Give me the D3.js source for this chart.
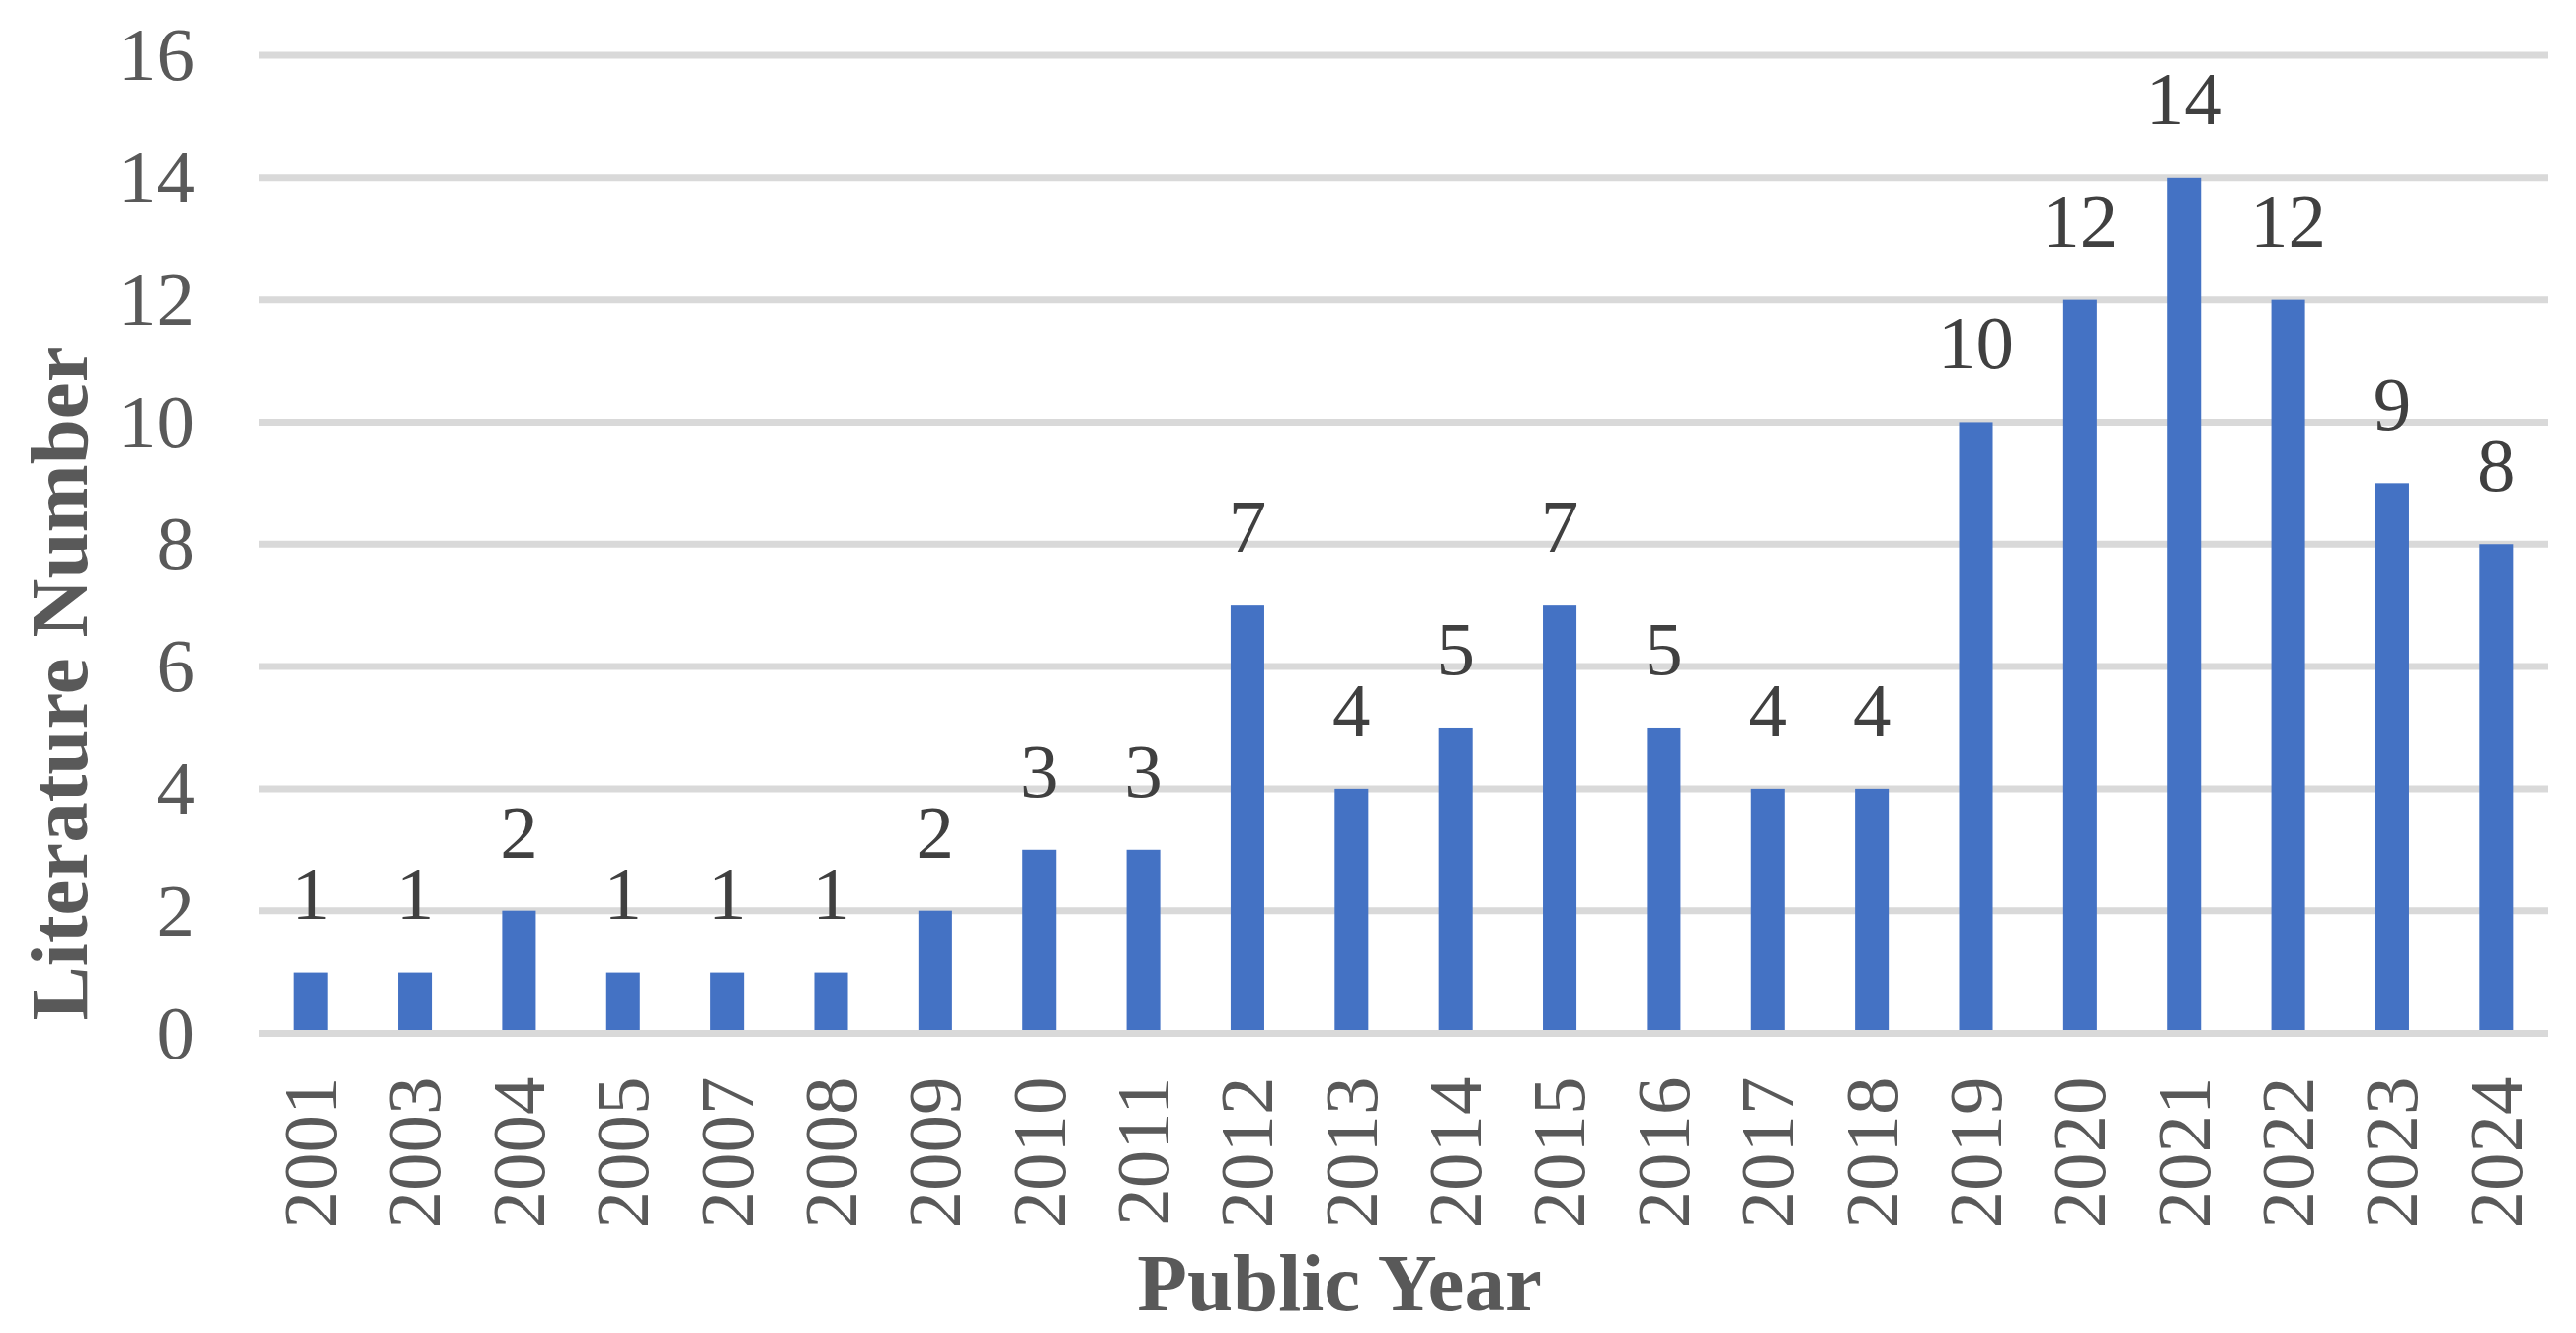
<!DOCTYPE html>
<html>
<head>
<meta charset="utf-8">
<script src="https://cdn.jsdelivr.net/npm/d3@7"></script>
<style>
  body { margin: 0; background: #fff; }
  text { font-family: "Liberation Serif", "Times New Roman", serif; }
</style>
</head>
<body>
<div id="container"></div>
<script>
var years = ["2001", "2003", "2004", "2005", "2007", "2008", "2009", "2010", "2011", "2012", "2013",
             "2014", "2015", "2016", "2017", "2018", "2019", "2020", "2021", "2022", "2023", "2024"];
var counts = [1, 1, 2, 1, 1, 1, 2, 3, 3, 7, 4, 5, 7, 5, 4, 4, 10, 12, 14, 12, 9, 8];
var yTicks = [0, 2, 4, 6, 8, 10, 12, 14, 16];

document.addEventListener('DOMContentLoaded', function(){
  var width = 2608;
  var height = 1350;
  var left = 262, right = 2580, top = 56, bottom = 1046.5;

  var xScale = d3.scaleBand()
                 .domain(years)
                 .range([left, right])
                 .paddingInner(0.677)
                 .paddingOuter(0.3385);

  var yScale = d3.scaleLinear()
                 .domain([0, 16])
                 .range([bottom, top]);

  var SVG = d3.select("#container")
              .append("svg")
              .attr("width", width)
              .attr("height", height);

  // gridlines
  SVG.append("g")
     .selectAll("line")
     .data(yTicks.filter(function(d){ return d > 0; }))
     .enter()
     .append("line")
     .attr("x1", left)
     .attr("x2", right)
     .attr("y1", function(d){ return yScale(d); })
     .attr("y2", function(d){ return yScale(d); })
     .attr("stroke", "#d9d9d9")
     .attr("stroke-width", 7);

  SVG.append("g")
     .selectAll("rect")
     .data(counts)
     .enter()
     .append("rect")
     .attr("x", function(d, i){ return xScale(years[i]); })
     .attr("y", function(d){ return yScale(d); })
     .attr("width", xScale.bandwidth())
     .attr("height", function(d){ return bottom - yScale(d); })
     .attr("fill", "#4472c4");

  // axis line at 0
  SVG.append("line")
     .attr("x1", left)
     .attr("x2", right)
     .attr("y1", yScale(0))
     .attr("y2", yScale(0))
     .attr("stroke", "#d9d9d9")
     .attr("stroke-width", 7);

  // data labels
  SVG.append("g")
     .selectAll("text")
     .data(counts)
     .enter()
     .append("text")
     .attr("x", function(d, i){ return xScale(years[i]) + xScale.bandwidth() / 2; })
     .attr("y", function(d){ return yScale(d) - 54; })
     .attr("text-anchor", "middle")
     .attr("fill", "#404040")
     .style("font-size", "77px")
     .text(function(d){ return d; });

  var yAxis = d3.axisLeft(yScale)
                .tickValues(yTicks)
                .tickSize(0)
                .tickPadding(65);

  var yG = SVG.append("g")
              .attr("transform", "translate(" + left + ",0)")
              .call(yAxis);
  yG.select(".domain").remove();
  yG.selectAll("text")
    .attr("fill", "#595959")
    .style("font-size", "77px")
    .style("font-family", "Liberation Serif, serif")
    .attr("dy", "0.32em");

  var xAxis = d3.axisBottom(xScale)
                .tickSize(0);

  var xG = SVG.append("g")
              .attr("transform", "translate(0," + bottom + ")")
              .call(xAxis);
  xG.select(".domain").remove();
  xG.selectAll("text")
    .attr("fill", "#595959")
    .style("font-size", "77px")
    .style("font-family", "Liberation Serif, serif")
    .attr("text-anchor", "end")
    .attr("transform", "rotate(-90)")
    .attr("x", -44)
    .attr("y", 0)
    .attr("dy", "0.33em");

  SVG.append('text')
     .attr('transform', 'translate(88,692) rotate(-90)')
     .attr('text-anchor', 'middle')
     .attr('fill', '#595959')
     .style('font-size', "83px")
     .style('font-weight', "bold")
     .text('Literature Number');

  SVG.append('text')
     .attr('x', 1356)
     .attr('y', 1327)
     .attr('text-anchor', 'middle')
     .attr('fill', '#595959')
     .style('font-size', "83px")
     .style('font-weight', "bold")
     .text('Public Year');
});
</script>
</body>
</html>
